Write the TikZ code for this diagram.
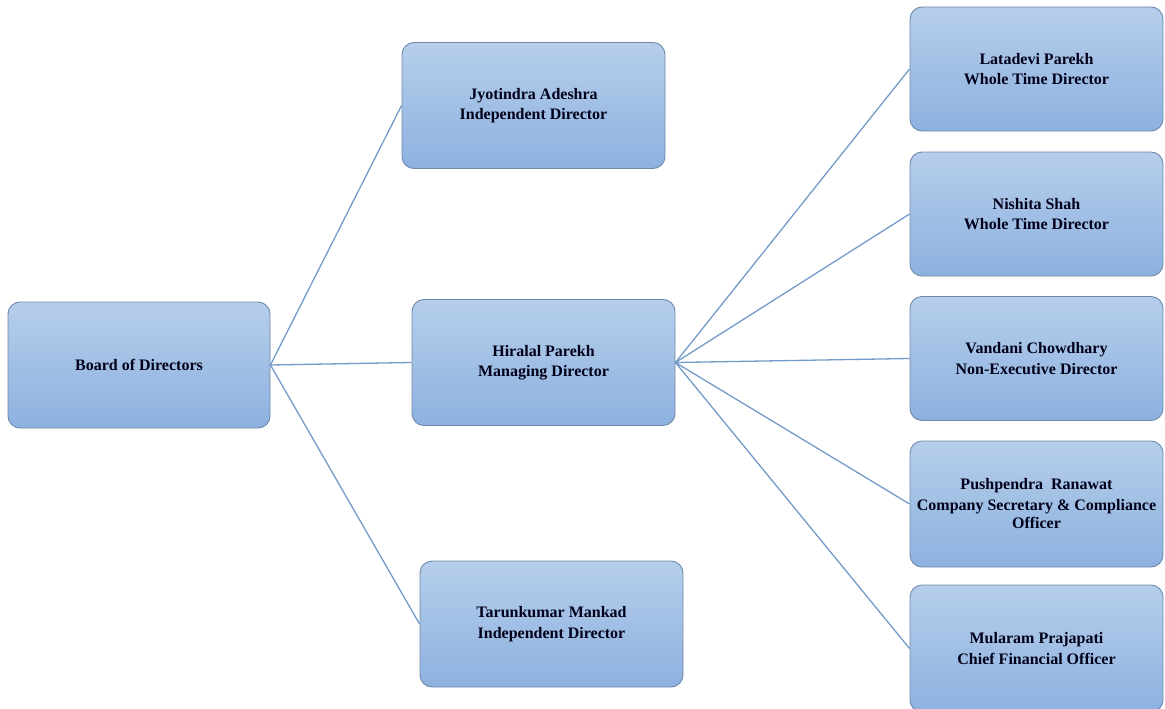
\documentclass[tikz,border=0pt]{standalone}
\usepackage{fontspec}
\setmainfont{Liberation Serif}
\definecolor{boxtop}{HTML}{B6CEEB}
\definecolor{boxbot}{HTML}{8DB1DF}
\definecolor{boxline}{HTML}{6F88AA}
\definecolor{linkcol}{HTML}{739BC9}
\tikzset{
  orgbox/.style={draw=boxline, line width=0.9pt, rounded corners=12pt,
    top color=boxtop, bottom color=boxbot, align=center,
    font=\fontsize{16}{20.5}\selectfont\bfseries, text=black!90!blue,
    minimum width=263pt, minimum height=126pt, inner sep=0pt},
  rbox/.style={orgbox, minimum width=253pt, minimum height=124pt},
  link/.style={draw=linkcol, line width=1.3pt}
}
\begin{document}
\begin{tikzpicture}[x=1pt,y=-1pt]
\useasboundingbox (0,0) rectangle (1165,709);
\clip (0,0) rectangle (1165,709);
\node[orgbox, minimum width=262pt] (board) at (139,365) {Board of Directors};
\node[orgbox] (jyo) at (533.5,105.5) {Jyotindra Adeshra\\Independent Director};
\node[orgbox] (hir) at (543.5,362.5) {Hiralal Parekh\\Managing Director};
\node[orgbox] (tar) at (551.5,624) {Tarunkumar Mankad\\Independent Director};
\node[rbox] (lat) at (1036.5,69) {Latadevi Parekh\\Whole Time Director};
\node[rbox] (nis) at (1036.5,214) {Nishita Shah\\Whole Time Director};
\node[rbox] (van) at (1036.5,358.5) {Vandani Chowdhary\\Non-Executive Director};
\node[rbox, minimum height=126pt] (pus) at (1036.5,504) {Pushpendra\ \ Ranawat\\Company Secretary \& Compliance\\[-2pt]Officer};
\node[rbox, minimum height=127pt] (mul) at (1036.5,648.5) {Mularam Prajapati\\Chief Financial Officer};
\draw[link] (board.east) -- (jyo.west);
\draw[link] (board.east) -- (hir.west);
\draw[link] (board.east) -- (tar.west);
\foreach \t in {lat,nis,van,pus,mul}
  \draw[link] (hir.east) -- (\t.west);
\end{tikzpicture}
\end{document}
